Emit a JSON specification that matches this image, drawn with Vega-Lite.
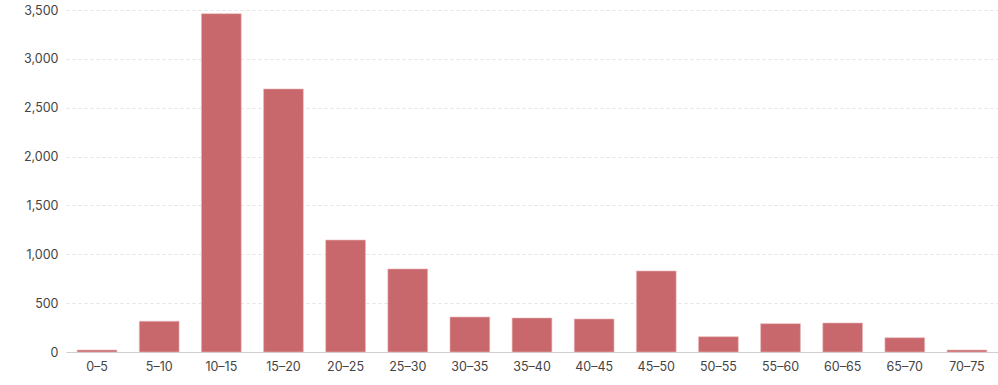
{
  "$schema": "https://vega.github.io/schema/vega-lite/v6.json",
  "width": 932,
  "height": 342,
  "autosize": {"type": "none"},
  "padding": {"left": 66, "top": 10, "right": 0, "bottom": 33},
  "background": "#ffffff",
  "config": {
    "view": {"stroke": null},
    "font": "Inter",
    "axis": {"labelFont": "Inter", "labelFontSize": 12.5, "labelColor": "#444444"}
  },
  "data": {
    "values": [
      {"range": "0–5", "count": 20},
      {"range": "5–10", "count": 315},
      {"range": "10–15", "count": 3462},
      {"range": "15–20", "count": 2692},
      {"range": "20–25", "count": 1146},
      {"range": "25–30", "count": 850},
      {"range": "30–35", "count": 358},
      {"range": "35–40", "count": 348},
      {"range": "40–45", "count": 338},
      {"range": "45–50", "count": 829},
      {"range": "50–55", "count": 157},
      {"range": "55–60", "count": 290},
      {"range": "60–65", "count": 297},
      {"range": "65–70", "count": 146},
      {"range": "70–75", "count": 20}
    ]
  },
  "mark": {"type": "bar", "color": "#c8686c", "stroke": "#e9b8ba", "strokeWidth": 0.6},
  "encoding": {
    "x": {
      "field": "range",
      "type": "nominal",
      "sort": null,
      "title": null,
      "scale": {"paddingInner": 0.36, "paddingOuter": 0.18},
      "axis": {"labelAngle": 0, "ticks": false, "domainColor": "#d0d0d0", "labelPadding": 8, "grid": false}
    },
    "y": {
      "field": "count",
      "type": "quantitative",
      "title": null,
      "scale": {"domain": [0, 3500], "nice": false},
      "axis": {
        "values": [0, 500, 1000, 1500, 2000, 2500, 3000, 3500],
        "format": ",.0f",
        "domain": false,
        "ticks": false,
        "labelPadding": 8,
        "gridColor": "#e4e4e4",
        "gridDash": [3, 3]
      }
    }
  }
}
